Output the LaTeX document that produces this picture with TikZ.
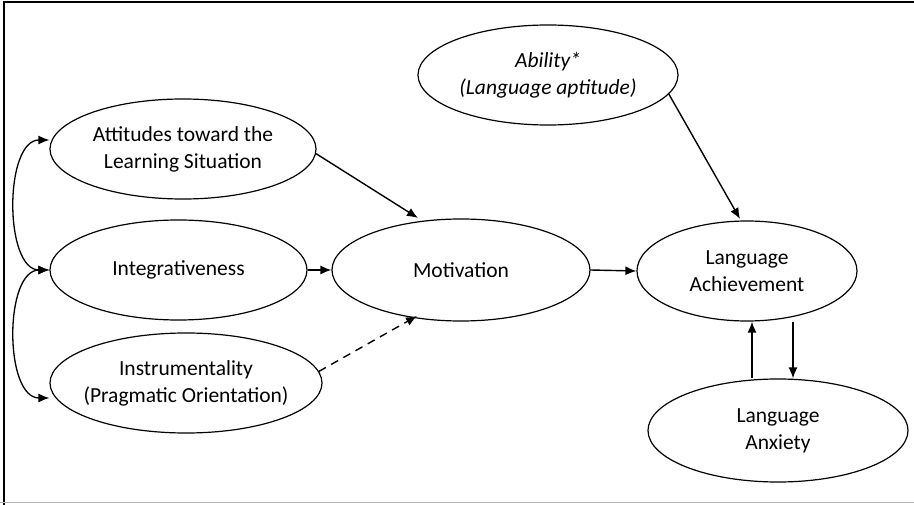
\documentclass[tikz,border=0pt]{standalone}
\usepackage{fontspec}
\setmainfont{Carlito}
\usetikzlibrary{arrows.meta,shapes.geometric}
\begin{document}
\begin{tikzpicture}[x=1pt,y=-1pt,
  oval/.style={draw,ellipse,line width=1.2pt,inner sep=0pt},
  txt/.style={align=center,font=\fontsize{21.5}{27}\selectfont},
  arr/.style={line width=1.4pt,-{Latex[length=11pt,width=9pt]}},
  darr/.style={line width=1.3pt,{Latex[length=11pt,width=9pt]}-{Latex[length=11pt,width=9pt]}}]
\useasboundingbox (0,0) rectangle (914,505);
\fill[white] (0,0) rectangle (914,505);
\draw[line width=2pt] (3.5,505) -- (3.5,2) -- (914,2);
\draw[line width=1.2pt,gray!60] (0,502.5) -- (914,502.5);

\node[oval,minimum width=266pt,minimum height=100pt] (att) at (183,149) {};
\node[txt] (attT) at (att.center) {Attitudes toward the\\Learning Situation};
\node[oval,minimum width=257pt,minimum height=100pt] (int) at (178.5,270) {};
\node[txt] (intT) at (int.center) {Integrativeness};
\node[oval,minimum width=272pt,minimum height=100pt] (ins) at (186,383) {};
\node[txt] (insT) at (ins.center) {Instrumentality\\(Pragmatic Orientation)};
\node[oval,minimum width=258pt,minimum height=102pt] (mot) at (461,270) {};
\node[txt] (motT) at (mot.center) {Motivation};
\node[oval,minimum width=220pt,minimum height=100pt] (ach) at (747,271) {};
\node[txt] (achT) at (ach.center) {Language\\Achievement};
\node[oval,minimum width=260pt,minimum height=103pt] (anx) at (778,430.5) {};
\node[txt] (anxT) at (anx.center) {Language\\Anxiety};
\node[oval,minimum width=260pt,minimum height=100pt] (abl) at (548,75) {};
\node[txt,font=\fontsize{21.5}{27}\selectfont\itshape] (ablT) at (abl.center) {Ability*\\(Language aptitude)};

\coordinate (motA) at (418,218);
\coordinate (motB) at (417,316);
\coordinate (achA) at (740,219);
\draw[arr] (att.-2) -- (motA);
\draw[arr] (int.east) -- (mot.west);
\draw[arr,dashed,dash pattern=on 8pt off 6pt] (ins.5) -- (motB);
\draw[arr] (mot.east) -- (ach.west);
\draw[arr] (abl.-9) -- (achA);
\draw[arr] (ach.south -| 793,0) -- (anx.north -| 793,0);
\draw[arr] (anx.north -| 752,0) -- (ach.south -| 752,0);

\draw[darr] (att.west |- 0,140) .. controls (4,140) and (4,270) .. (int.west);
\draw[darr] (int.west) .. controls (4,270) and (4,398) .. (ins.west |- 0,398);
\end{tikzpicture}
\end{document}
